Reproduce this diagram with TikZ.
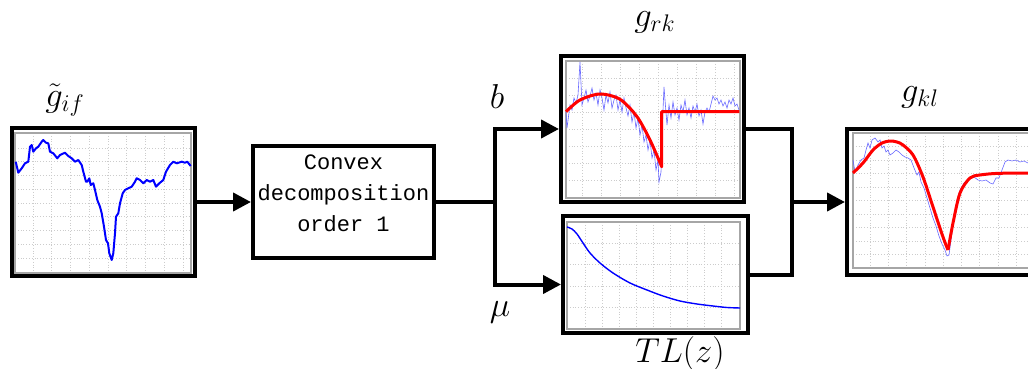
\documentclass[tikz,border=0pt]{standalone}
\usepackage{amsmath}
\usepackage{fontspec}
\setmonofont{Liberation Mono}
\usetikzlibrary{arrows.meta,calc}

% plot area: x0,y0,x1,y1, grid x list, grid y list
\newcommand{\plotarea}[6]{%
  \foreach \gx in {#5} \draw[gridline] (\gx,#2) -- (\gx,#4);
  \foreach \gy in {#6} \draw[gridline] (#1,\gy) -- (#3,\gy);
  \draw[plotframe] (#1,#2) rectangle (#3,#4);}

\begin{document}
\begin{tikzpicture}[x=0.5pt,y=-0.5pt,
  blockbox/.style={draw,line width=2pt,inner sep=0pt},
  wire/.style={line width=2pt},
  arr/.style={-{Triangle[length=9pt,width=9pt]}},
  gridline/.style={gray!40,densely dotted,line width=0.4pt},
  plotframe/.style={gray!70,line width=0.9pt},
  lbl/.style={font=\fontsize{16.5}{20}\selectfont},
  noisy/.style={blue!60,line width=0.3pt},
  fitted/.style={red,line width=1.5pt,line join=round}]
\useasboundingbox (0,0) rectangle (1028,369);

% blocks
\node[blockbox,minimum width=91.5pt,minimum height=74pt] (gif) at (103.5,202) {};
\node[blockbox,minimum width=90.5pt,minimum height=55.5pt] (conv) at (343.5,202) {};
\node[font=\ttfamily\fontsize{11}{15.5}\selectfont,align=center] (convtxt) at ([yshift=4.5pt]conv.center) {Convex\\decomposition\\order 1};
\node[blockbox,minimum width=91.5pt,minimum height=73pt] (grk) at (652.5,129) {};
\node[blockbox,minimum width=92.5pt,minimum height=58.5pt] (tl) at (655.5,274.5) {};
\node[blockbox,minimum width=91.5pt,minimum height=72.5pt] (gkl) at (938.5,202) {};

% labels
\node[lbl] (giflbl) at (65,100) {$\tilde{g}_{if}$};
\node[lbl] (grklbl) at (655,22) {$g_{rk}$};
\node[lbl] (gkllbl) at (920,97) {$g_{kl}$};
\node[lbl] (blbl) at (497,97) {$b$};
\node[lbl] (mulbl) at (500,312) {$\mu$};
\node[lbl] (tllbl) at (680,354) {$TL(z)$};

% connectors
\coordinate (split) at (495,202);
\coordinate (join) at (792,202);
\draw[wire,arr] (gif.east) -- (conv.west);
\draw[wire] (conv.east) -- (split);
\draw[wire,arr] (split) |- (grk.west);
\draw[wire,arr] (split) |- ([yshift=-5pt]tl.west);
\draw[wire] (grk.east) -| (join);
\draw[wire] (tl.east) -| (join);
\draw[wire,arr] (join) -- (gkl.west);

% plot of g_if
\plotarea{15}{133}{191}{273}{33,51.75,...,184}{148,161.75,...,259}
\draw[blue,line width=1pt,line join=round] plot coordinates {(15.7,161.7) (18.3,172.7) (21.7,168.3) (25,163.3) (28.3,161.7) (30,146.7) (31.7,145) (33.3,151.7) (36,148.3) (38.3,146.7) (41.7,141.7) (43.3,140) (46,142.7) (48.3,143.3) (50,151.7) (53.3,153.3) (57.3,158.3) (60,155) (65,152.7) (68.3,156) (71.7,158.3) (75,161.7) (78.3,160) (81.7,165) (83.3,171.7) (86,181.7) (87.3,181.7) (89.3,178.3) (90.7,185) (93.3,183.3) (95,190) (97.3,200) (100,206.7) (101.7,213.3) (104,226.7) (106,240) (108,243.3) (109.3,253.3) (111.7,260) (113.3,253.3) (115,233.3) (116,216.7) (118.3,213.3) (120,203.3) (122.7,193.3) (125,190) (128.3,188.3) (131.7,186.7) (135,181.7) (136.7,178.3) (140,180) (143.3,183.3) (146.7,180) (150,181.7) (153.3,180) (156,186.7) (159.3,183.3) (163.3,180) (166,171.7) (170,165) (173.3,161.7) (176.7,163.3) (181.7,161.7) (185,162.7) (187.3,161.7) (190.7,166)};

% plot of g_rk
\plotarea{566}{61}{740}{198}{582,601,...,735}{78,95,...,182}
\draw[noisy] plot coordinates {(566,112) (567,128) (570,105) (572,110) (574,98) (576,103) (578,95) (580,62) (582,105) (584,98) (586,90) (588,102) (590,96) (592,88) (594,100) (596,93) (598,105) (600,90) (602,98) (604,110) (606,95) (608,103) (610,92) (612,108) (614,100) (616,95) (618,110) (620,100) (622,112) (624,98) (626,108) (628,116) (630,105) (632,122) (634,112) (636,128) (638,118) (640,135) (642,125) (644,142) (646,135) (648,150) (650,140) (652,158) (654,150) (656,170) (658,160) (659,182) (661,172) (662,140) (663,110) (664,87) (665,100) (667,125) (669,105) (671,118) (673,102) (675,115) (677,108) (679,120) (681,105) (683,112) (685,100) (687,115) (689,108) (691,118) (693,106) (695,112) (697,104) (699,116) (701,110) (703,124) (705,112) (707,108) (709,112) (711,104) (713,96) (715,100) (717,98) (719,104) (721,100) (723,106) (725,102) (727,108) (729,100) (731,104) (733,98) (735,106) (737,104) (739,110)};
\draw[fitted] plot[smooth] coordinates {(566,111.7) (580,100) (600,94) (620,99.3) (637,116.7) (650,140) (661.7,166.7)} -- (661.7,111.7) -- (739.3,111.7);

% plot of TL(z)
\plotarea{567}{222}{740}{329}{585,602,...,736}{243.3,264.6,...,320}
\draw[blue,line width=0.7pt] plot[smooth] coordinates {(567,227) (572,229) (577,234) (583,243) (590,253) (600,263) (613,273) (630,283) (647,290) (663,296) (680,301) (697,304) (713,306) (727,307.5) (740,308)};

% plot of g_kl
\plotarea{853}{133}{1040}{268}{870,888.3,...,1035}{146.7,160.2,...,262}
\draw[noisy] plot coordinates {(853,160) (855,172) (858,165) (861,160) (864,158) (866,150) (868,143) (870,148) (872,140) (875,138) (878,142) (880,140) (882,148) (884,146) (886,152) (888,150) (890,155) (893,153) (896,150) (899,152) (902,155) (905,157) (908,158) (911,160) (914,168) (917,175) (919,172) (921,182) (924,188) (927,198) (930,208) (933,218) (936,226) (939,236) (942,244) (945,250) (947,256) (949,255) (951,240) (954,218) (957,200) (960,190) (964,183) (967,180) (970,178) (974,177) (978,180) (982,181) (986,180) (990,183) (993,184) (996,178) (999,178) (1002,170) (1005,162) (1008,160) (1012,161) (1016,160) (1020,162) (1024,161) (1028,163) (1032,163)};
\draw[fitted] plot[smooth] coordinates {(853,173) (863,163) (873,150) (882,143) (890,141) (897,142) (903,145) (913,155) (923,177) (933,207) (943,237) (948,250)};
\draw[fitted] plot[smooth] coordinates {(948,250) (953,223) (960,193) (970,178) (980,175) (1000,173.3) (1040,173.3)};
\end{tikzpicture}
\end{document}
